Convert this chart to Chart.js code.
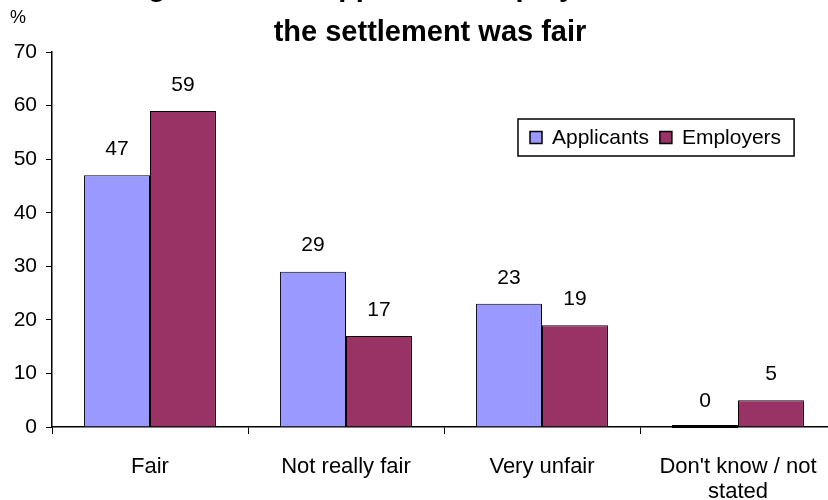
<!DOCTYPE html>
<html>
<head>
<meta charset="utf-8">
<script src="https://cdn.jsdelivr.net/npm/chart.js@4/dist/chart.umd.min.js"></script>
<style>
  html, body { margin: 0; padding: 0; background: #fff; overflow: hidden; width: 828px; height: 500px; }
  #wrap { position: absolute; left: 0; top: -40px; width: 860px; height: 540px; }
</style>
</head>
<body>
<div id="wrap"><canvas id="chart" width="860" height="540"></canvas></div>
<script>
// Survey answers: was the settlement fair? (percent of respondents)
const titleLines = ['Figure 5.3 Did applicants/employers feel that', 'the settlement was fair'];
const categories = ['Fair', 'Not really fair', 'Very unfair', ["Don't know / not", 'stated']];
const seriesNames = ['Applicants', 'Employers'];
const applicants = [47, 29, 23, 0];
const employers = [59, 17, 19, 5];
const yMin = 0, yMax = 70, yStep = 10;
const yUnit = '%';

const FONT = '"Liberation Sans", Arial, Helvetica, sans-serif';
const colors = ['#9999FF', '#993366'];

const annotate = {
  id: 'annotate',
  afterDraw(chart) {
    const ctx = chart.ctx;
    const area = chart.chartArea;
    ctx.save();
    ctx.fillStyle = '#000';

    // two-line title, centred on the canvas
    ctx.font = `bold 29px ${FONT}`;
    ctx.textAlign = 'center';
    ctx.textBaseline = 'middle';
    ctx.fillText(titleLines[0], chart.width / 2, area.top - 64);
    ctx.fillText(titleLines[1], chart.width / 2, area.top - 19);

    // unit above the value axis
    ctx.font = `18px ${FONT}`;
    ctx.fillText(yUnit, area.left - 34, area.top - 34);

    // value labels over each bar; a zero bar is shown as a heavy line on the axis
    ctx.font = `21px ${FONT}`;
    chart.data.datasets.forEach((ds, di) => {
      chart.getDatasetMeta(di).data.forEach((bar, i) => {
        const v = ds.data[i];
        ctx.fillText(String(v), bar.x, bar.y - 26);
        if (v === 0) {
          ctx.fillRect(bar.x - bar.width / 2, bar.y - 2, bar.width, 3);
        }
      });
    });

    // legend box
    ctx.font = `21px ${FONT}`;
    ctx.textAlign = 'left';
    const boxX = area.right - 318, boxY = area.top + 67, boxH = 37;
    let x = boxX + 12;
    const cy = boxY + boxH / 2;
    chart.data.datasets.forEach((ds) => {
      ctx.fillStyle = ds.backgroundColor;
      ctx.fillRect(x, cy - 6, 12, 12);
      ctx.strokeStyle = '#000';
      ctx.lineWidth = 1.5;
      ctx.strokeRect(x, cy - 6, 12, 12);
      x += 22;
      ctx.fillStyle = '#000';
      ctx.fillText(ds.label, x, cy + 1);
      x += ctx.measureText(ds.label).width + 11;
    });
    ctx.lineWidth = 1.5;
    ctx.strokeStyle = '#000';
    ctx.strokeRect(boxX, boxY, x - boxX + 2, boxH);
    ctx.restore();
  }
};

new Chart(document.getElementById('chart'), {
  type: 'bar',
  data: {
    labels: categories,
    datasets: [
      { label: seriesNames[0], data: applicants, backgroundColor: colors[0], borderColor: '#000', borderWidth: 1 },
      { label: seriesNames[1], data: employers, backgroundColor: colors[1], borderColor: '#000', borderWidth: 1 }
    ]
  },
  options: {
    responsive: false,
    animation: false,
    devicePixelRatio: 1,
    layout: { padding: { top: 92, right: 24, bottom: 0, left: 0 } },
    datasets: { bar: { categoryPercentage: 0.673, barPercentage: 1 } },
    plugins: { legend: { display: false }, title: { display: false }, tooltip: { enabled: false } },
    scales: {
      x: {
        grid: { offset: true, drawOnChartArea: false, tickLength: 7, color: '#000', lineWidth: 1 },
        border: { color: '#000', width: 1.5 },
        ticks: { color: '#000', padding: 20, font: { family: FONT, size: 22, lineHeight: '25px' }, maxRotation: 0 },
        afterFit(s) { s.height = 73; }
      },
      y: {
        min: yMin, max: yMax,
        grid: { drawOnChartArea: false, tickLength: 6, color: '#000', lineWidth: 1 },
        border: { color: '#000', width: 1.5 },
        ticks: { stepSize: yStep, color: '#000', padding: 9, font: { family: FONT, size: 21 } },
        afterFit(s) { s.width = 52; }
      }
    }
  },
  plugins: [annotate]
});
</script>
</body>
</html>
